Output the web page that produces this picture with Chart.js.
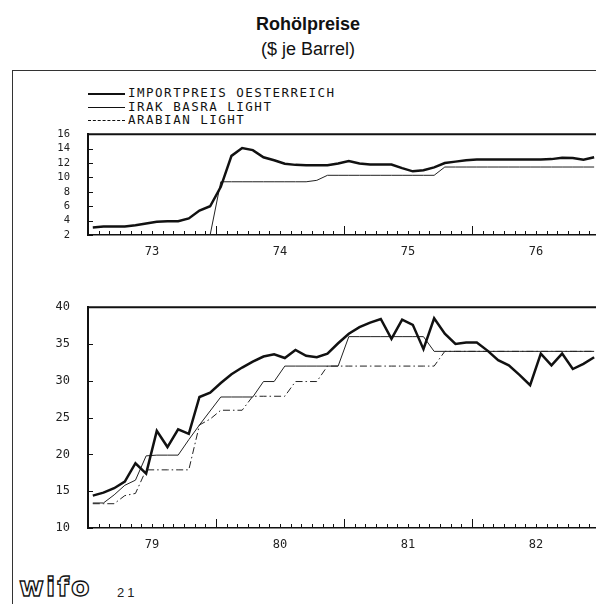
<!DOCTYPE html>
<html>
<head>
<meta charset="utf-8">
<script src="https://cdn.jsdelivr.net/npm/chart.js@4.4.0/dist/chart.umd.min.js"></script>
<style>
  body { margin: 0; width: 596px; height: 604px; overflow: hidden; background: #fff; position: relative; }
  .abs { position: absolute; }
  #titel { left: 0; width: 616px; top: 14px; text-align: center; font: bold 18px "Liberation Sans", Arial, sans-serif; color: #111; }
  #untertitel { left: 0; width: 616px; top: 39px; text-align: center; font: 18px "Liberation Sans", Arial, sans-serif; color: #111; }
  #rahmenOben { left: 12px; top: 70px; width: 590px; height: 0; border-top: 1.5px solid #333; }
  #rahmenLinks { left: 12px; top: 70px; width: 0; height: 540px; border-left: 1.5px solid #333; }
  #legende { left: 88px; top: 86px; font: 12.5px "DejaVu Sans Mono", monospace; letter-spacing: 1.5px; color: #111; }
  #legende div { height: 13.5px; line-height: 13.5px; white-space: nowrap; }
  #legende span { display: inline-block; width: 37px; margin-right: 3px; vertical-align: middle; }
  #logo { left: 19px; top: 571px; font: bold 27px "DejaVu Sans", sans-serif; color: #fff; -webkit-text-stroke: 1.3px #111; letter-spacing: 2px; }
  #seite { left: 117px; top: 585px; font: 13px "Liberation Sans", Arial, sans-serif; letter-spacing: 3px; color: #222; }
  canvas { position: absolute; left: 0; }
</style>
</head>
<body>
<div id="titel" class="abs">Rohölpreise</div>
<div id="untertitel" class="abs">($ je Barrel)</div>
<div id="rahmenOben" class="abs"></div>
<div id="rahmenLinks" class="abs"></div>
<div id="legende" class="abs">
  <div><span style="border-top:2px solid #111"></span>IMPORTPREIS OESTERREICH</div>
  <div><span style="border-top:1px solid #111"></span>IRAK BASRA LIGHT</div>
  <div><span style="border-top:1px dashed #111"></span>ARABIAN LIGHT</div>
</div>
<canvas id="graficoOben" width="620" height="142" style="top:118px"></canvas>
<canvas id="graficoUnten" width="620" height="263" style="top:290px"></canvas>
<div id="logo" class="abs">wifo</div>
<div id="seite" class="abs">21</div>

<script>
// Jahreslabels
const jahreOben = ["73", "74", "75", "76"];
const jahreUnten = ["79", "80", "81", "82"];

// Monatswerte 1973-1976
const importOben = [3.05, 3.18, 3.18, 3.18, 3.35, 3.6, 3.83, 3.92, 3.92, 4.3,
  5.4, 6.0, 8.7, 13.0, 14.1, 13.8, 12.8, 12.4, 11.9, 11.75,
  11.7, 11.7, 11.7, 11.95, 12.3, 11.95, 11.8, 11.8, 11.8, 11.3,
  10.85, 11.0, 11.4, 12.0, 12.2, 12.4, 12.5, 12.5, 12.5, 12.5,
  12.5, 12.5, 12.5, 12.55, 12.75, 12.7, 12.45, 12.8];
const irakOben = [null, null, null, null, null, null, null, null, null, null,
  null, 2.0, 9.4, 9.4, 9.4, 9.4, 9.4, 9.4, 9.4, 9.4,
  9.4, 9.6, 10.3, 10.3, 10.3, 10.3, 10.3, 10.3, 10.3, 10.3,
  10.3, 10.3, 10.3, 11.45, 11.45, 11.45, 11.45, 11.45, 11.45, 11.45,
  11.45, 11.45, 11.45, 11.45, 11.45, 11.45, 11.45, 11.45];

// Monatswerte 1979-1982
const importUnten = [14.4, 14.8, 15.4, 16.3, 18.8, 17.4, 23.2, 21.0, 23.4, 22.8,
  27.8, 28.4, 29.7, 30.9, 31.8, 32.6, 33.3, 33.6, 33.1, 34.2,
  33.4, 33.2, 33.7, 35.1, 36.4, 37.3, 37.9, 38.4, 35.7, 38.3,
  37.6, 34.3, 38.5, 36.4, 35.0, 35.2, 35.2, 34.1, 32.8, 32.1,
  30.8, 29.4, 33.7, 32.1, 33.7, 31.6, 32.3, 33.2];
const irakUnten = [13.4, 13.4, 14.5, 15.8, 16.5, 19.8, 19.9, 19.9, 19.9, 22.0,
  24.0, 25.9, 27.8, 27.8, 27.8, 27.8, 29.9, 29.9, 32.0, 32.0,
  32.0, 32.0, 32.0, 32.0, 36, 36, 36, 36, 36, 36,
  36, 36, 34, 34, 34, 34, 34, 34, 34, 34,
  34, 34, 34, 34, 34, 34, 34, 34];
const arabianUnten = [13.3, 13.3, 13.3, 14.4, 14.7, 17.9, 17.9, 17.9, 17.9, 17.9,
  24.0, 24.8, 26.0, 26.0, 26.0, 27.9, 27.9, 27.9, 27.9, 29.9,
  29.9, 29.9, 32, 32, 32, 32, 32, 32, 32, 32,
  32, 32, 32, 34, 34, 34, 34, 34, 34, 34,
  34, 34, 34, 34, 34, 34, 34, 34];

function punkte(werte) {
  return werte.map((v, i) => ({ x: i + 0.45, y: v }));
}

// Plotter-Rahmen: obere Linie und Striche nach innen
const plotterStriche = {
  id: "plotterStriche",
  afterDraw(chart) {
    const { ctx, chartArea: a, scales } = chart;
    ctx.save();
    ctx.strokeStyle = "#111";
    ctx.lineWidth = 2;
    ctx.beginPath();
    ctx.moveTo(a.left, a.top);
    ctx.lineTo(a.right, a.top);
    ctx.stroke();
    ctx.lineWidth = 1;
    for (let m = 0; m <= 48; m++) {
      const px = Math.round(scales.x.getPixelForValue(m)) + 0.5;
      const lang = m % 12 === 0 ? 9 : 4;
      ctx.beginPath();
      ctx.moveTo(px, a.bottom);
      ctx.lineTo(px, a.bottom - lang);
      ctx.stroke();
    }
    scales.y.ticks.forEach((t) => {
      const py = Math.round(scales.y.getPixelForValue(t.value)) + 0.5;
      ctx.beginPath();
      ctx.moveTo(a.left, py);
      ctx.lineTo(a.left + 5, py);
      ctx.stroke();
    });
    ctx.restore();
  },
};

function optionen(jahre, min, max, schritt, oben, ySchrift) {
  return {
    responsive: false,
    animation: false,
    layout: { padding: { top: oben, right: 20, left: 0, bottom: 0 } },
    plugins: { legend: { display: false }, tooltip: { enabled: false } },
    elements: { point: { radius: 0 }, line: { tension: 0 } },
    scales: {
      x: {
        type: "linear",
        min: 0,
        max: 48,
        grid: { display: false },
        border: { color: "#111", width: 1.5 },
        afterBuildTicks: (s) => {
          s.ticks = jahre.map((_, i) => ({ value: i * 12 + 6 }));
        },
        afterFit: (s) => {
          s.height = 25;
        },
        ticks: {
          autoSkip: false,
          maxRotation: 0,
          padding: 2,
          color: "#222",
          font: { family: "DejaVu Sans Mono", size: 12 },
          callback: (v) => jahre[Math.round((v - 6) / 12)],
        },
      },
      y: {
        min: min,
        max: max,
        grid: { display: false },
        border: { color: "#111", width: 2 },
        afterFit: (s) => {
          s.width = 88;
        },
        ticks: {
          stepSize: schritt,
          autoSkip: false,
          padding: 10,
          color: "#222",
          font: { family: "DejaVu Sans Mono", size: ySchrift },
        },
      },
    },
  };
}

new Chart(document.getElementById("graficoOben").getContext("2d"), {
  type: "line",
  data: {
    datasets: [
      { label: "IMPORTPREIS OESTERREICH", data: punkte(importOben), borderColor: "#111", borderWidth: 2.5 },
      { label: "IRAK BASRA LIGHT", data: punkte(irakOben), borderColor: "#222", borderWidth: 1 },
    ],
  },
  options: optionen(jahreOben, 2, 16, 2, 10.5, 10.5),
  plugins: [plotterStriche],
});

new Chart(document.getElementById("graficoUnten").getContext("2d"), {
  type: "line",
  data: {
    datasets: [
      { label: "IMPORTPREIS OESTERREICH", data: punkte(importUnten), borderColor: "#111", borderWidth: 2.5 },
      { label: "IRAK BASRA LIGHT", data: punkte(irakUnten), borderColor: "#222", borderWidth: 1 },
      { label: "ARABIAN LIGHT", data: punkte(arabianUnten), borderColor: "#222", borderWidth: 1, borderDash: [7, 3, 1.5, 3] },
    ],
  },
  options: optionen(jahreUnten, 10, 40, 5, 12, 12),
  plugins: [plotterStriche],
});
</script>
</body>
</html>
